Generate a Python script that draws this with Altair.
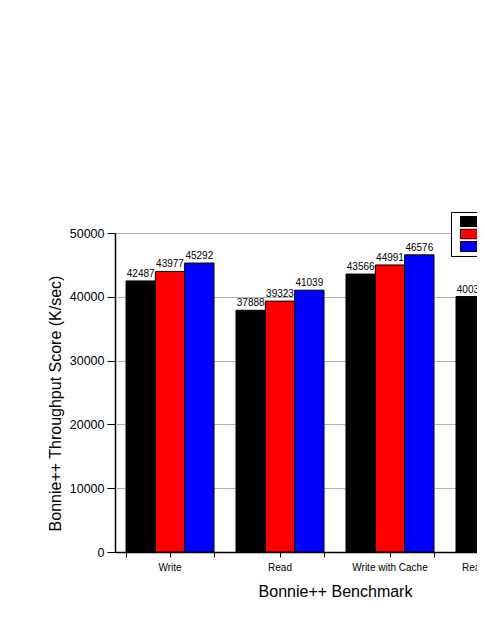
import altair as alt
import pandas as pd

categories = ["Write", "Read", "Write with Cache", "Read with Cache"]
series = ["Config 1", "Config 2", "Config 3"]
values_s1 = [42487, 37888, 43566, 40039]
values_s2 = [43977, 39323, 44991, 41480]
values_s3 = [45292, 41039, 46576, 42850]
colors = ["#000000", "#ff0000", "#0000ff"]
y_ticks = [0, 5000, 10000, 15000, 20000, 25000, 30000, 35000, 40000, 45000, 50000]

rows = []
for i, c in enumerate(categories):
    for s, vals in zip(series, [values_s1, values_s2, values_s3]):
        rows.append({"benchmark": c, "config": s, "score": vals[i]})
df = pd.DataFrame(rows)

FONT = "Liberation Sans"

x_scale = alt.Scale(domain=categories, range=[0, 440], paddingInner=0.2, paddingOuter=0.1)
xo = alt.XOffset("config:N", sort=series,
                 scale=alt.Scale(domain=series, paddingInner=0, paddingOuter=0))
y_enc = alt.Y(
    "score:Q",
    scale=alt.Scale(domain=[0, 50000], nice=False),
    axis=alt.Axis(
        values=y_ticks,
        format="d",
        labelExpr="datum.value % 10000 === 0 ? datum.label : ''",
        tickSize={"condition": {"test": "datum.value % 10000 === 0", "value": 8}, "value": 4},
        gridOpacity={"condition": {"test": "datum.value % 10000 === 0 && datum.value > 0", "value": 1}, "value": 0},
        grid=True,
        gridColor="#b0b0b0",
        gridWidth=1,
        tickColor="black",
        tickWidth=1,
        domainColor="black",
        domainWidth=1.5,
        labelFontSize=12.5,
        labelColor="black",
        labelPadding=3,
        title="Bonnie++ Throughput Score (K/sec)",
        titleFontSize=16,
        titleFontWeight="normal",
        titleColor="black",
        titleAngle=270,
        titleX=-60,
        titleY=170,
        titleBaseline="middle",
        titleAlign="center",
    ),
)
color_enc = alt.Color(
    "config:N",
    sort=series,
    scale=alt.Scale(domain=series, range=colors),
    legend=alt.Legend(
        orient="none",
        legendX=336,
        legendY=-21,
        title=None,
        strokeColor="black",
        fillColor="white",
        padding=4,
        symbolType="M0,-1H4.4V1H0Z",
        symbolSize=100,
        symbolStrokeColor="black",
        symbolStrokeWidth=1,
        symbolOpacity=1,
        labelFontSize=6,
        labelOffset=30,
        labelColor="black",
        clipHeight=11,
        rowPadding=1.5,
    ),
)

bars = alt.Chart(df).mark_bar(stroke="black", strokeWidth=1, opacity=1).encode(
    x=alt.X(
        "benchmark:N",
        sort=categories,
        scale=x_scale,
        axis=alt.Axis(
            labelAngle=0,
            labelFontSize=10,
            labelColor="black",
            labelPadding=5,
            tickSize=5,
            tickColor="black",
            tickWidth=1,
            domainColor="black",
            domainWidth=1.5,
            grid=False,
            title="Bonnie++ Benchmark",
            titleFontSize=16,
            titleFontWeight="normal",
            titleColor="black",
            titleX=220,
            titleY=39,
            titleBaseline="middle",
            titleAlign="center",
        ),
    ),
    xOffset=xo,
    y=y_enc,
    color=color_enc,
)

labels = alt.Chart(df).mark_text(
    dy=-4, fontSize=10, font=FONT, color="black", baseline="alphabetic", align="center"
).encode(
    x=alt.X(
        "benchmark:N",
        sort=categories,
        scale=x_scale,
        axis=alt.Axis(
            labels=False,
            domain=False,
            grid=False,
            ticks=True,
            tickBand="extent",
            tickSize=5,
            tickColor="black",
            tickWidth=1,
            title=None,
            orient="bottom",
        ),
    ),
    xOffset=xo,
    y=alt.Y("score:Q"),
    text=alt.Text("score:Q", format="d"),
)

chart = (
    alt.layer(bars, labels)
    .resolve_axis(x="independent")
    .properties(
        width=362,
        height=319,
        autosize=alt.AutoSizeParams(type="none"),
        padding={"top": 225, "left": 107, "right": 0, "bottom": 60},
        background="white",
    )
    .configure(font=FONT)
    .configure_view(stroke="transparent")
)

chart.save("out.html", embed_options={"renderer": "svg", "actions": False})
